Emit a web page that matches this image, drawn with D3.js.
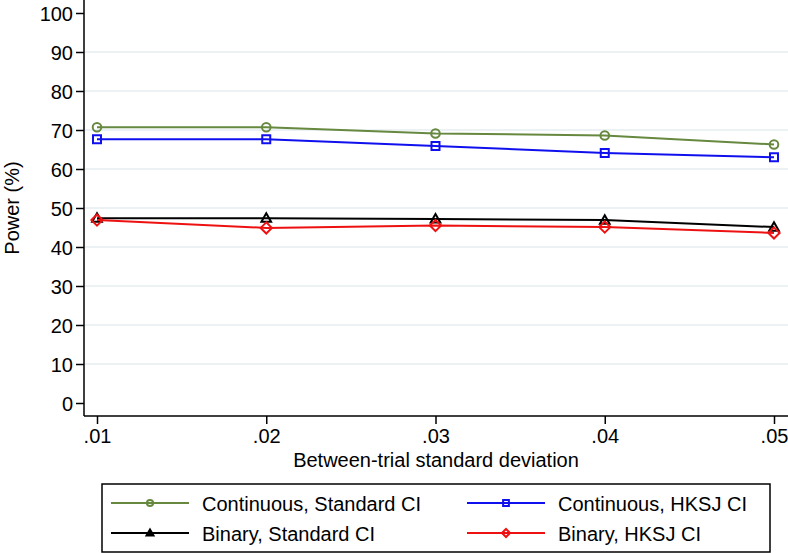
<!DOCTYPE html>
<html><head><meta charset="utf-8">
<script src="https://cdn.jsdelivr.net/npm/d3@7"></script>
<style>
html,body{margin:0;padding:0;background:#fff;}
svg{display:block;font-family:"Liberation Sans",Arial,sans-serif;}
</style></head>
<body><svg id="c" width="788" height="553"></svg>
<script>
const xValues = [0.01, 0.02, 0.03, 0.04, 0.05];
const xTickLabels = [".01", ".02", ".03", ".04", ".05"];
const yTicks = [0, 10, 20, 30, 40, 50, 60, 70, 80, 90, 100];
const contStandard = [70.7, 70.7, 69.1, 68.6, 66.3];
const contHKSJ = [67.6, 67.6, 65.9, 64.1, 63.0];
const binStandard = [47.4, 47.4, 47.2, 46.9, 45.1];
const binHKSJ = [46.9, 44.9, 45.5, 45.1, 43.6];
const seriesNames = ["Continuous, Standard CI", "Continuous, HKSJ CI", "Binary, Standard CI", "Binary, HKSJ CI"];

const series = [
  {name: seriesNames[0], values: contStandard, color: "#66883f", symbol: "circle"},
  {name: seriesNames[1], values: contHKSJ, color: "#1010ee", symbol: "square"},
  {name: seriesNames[2], values: binStandard, color: "#000000", symbol: "triangle"},
  {name: seriesNames[3], values: binHKSJ, color: "#ee1111", symbol: "diamond"}
];

const svg = d3.select("#c");
const fs = 20;
const x = d3.scaleLinear().domain([0.01, 0.05]).range([97, 774]);
const y = d3.scaleLinear().domain([0, 100]).range([403, 13]);
const axisLeft = 84, axisBottom = 416, plotRight = 788;

// gridlines
svg.append("g").selectAll("line").data(yTicks.filter(d => d > 0 && d < 100)).join("line")
  .attr("x1", axisLeft + 1).attr("x2", plotRight)
  .attr("y1", d => y(d)).attr("y2", d => y(d))
  .attr("stroke", "#e6eef0").attr("stroke-width", 1.5);

// y axis
const gy = svg.append("g").attr("transform", `translate(${axisLeft},0)`)
  .call(d3.axisLeft(y).tickValues(yTicks).tickSize(8).tickPadding(3).tickFormat(d3.format("d")));
gy.select(".domain").attr("d", `M0,0V${axisBottom}`).attr("stroke", "#000").attr("stroke-width", 1.5);
gy.selectAll(".tick line").attr("stroke", "#000").attr("stroke-width", 1.5);
gy.selectAll(".tick text").attr("font-size", fs).attr("font-family", "Liberation Sans, Arial, sans-serif").attr("fill", "#000").attr("dy", "0.36em");

// x axis
const gx = svg.append("g").attr("transform", `translate(0,${axisBottom})`)
  .call(d3.axisBottom(x).tickValues(xValues).tickSize(8).tickPadding(5).tickFormat((d, i) => xTickLabels[i]));
gx.select(".domain").attr("d", `M${axisLeft},0H${plotRight}`).attr("stroke", "#000").attr("stroke-width", 1.5);
gx.selectAll(".tick line").attr("stroke", "#000").attr("stroke-width", 1.5);
gx.selectAll(".tick text").attr("font-size", fs).attr("font-family", "Liberation Sans, Arial, sans-serif").attr("fill", "#000");

// axis titles
svg.append("text").attr("x", 436).attr("y", 467).attr("text-anchor", "middle")
  .attr("font-size", fs).text("Between-trial standard deviation");
svg.append("text").attr("transform", "translate(19,208) rotate(-90)").attr("text-anchor", "middle")
  .attr("font-size", fs).text("Power (%)");

function symbolPath(sym, r) {
  if (sym === "circle") return d3.symbol().type(d3.symbolCircle).size(Math.PI * r * r)();
  if (sym === "square") return `M${-r},${-r}H${r}V${r}H${-r}Z`;
  if (sym === "triangle") { const h = r * 1.15; return `M0,${-h}L${h},${h * 0.75}L${-h},${h * 0.75}Z`; }
  const d = r * 1.3; return `M0,${-d}L${d},0L0,${d}L${-d},0Z`;
}
const symR = {circle: 4.3, square: 4, triangle: 4.2, diamond: 4.3};

// lines + markers
const line = d3.line().x((d, i) => x(xValues[i])).y(d => y(d));
series.forEach(s => {
  svg.append("path").attr("d", line(s.values)).attr("fill", "none")
    .attr("stroke", s.color).attr("stroke-width", 2);
  svg.append("g").selectAll("path").data(s.values).join("path")
    .attr("transform", (d, i) => `translate(${x(xValues[i])},${y(d)})`)
    .attr("d", symbolPath(s.symbol, symR[s.symbol]))
    .attr("fill", "none").attr("stroke", s.color).attr("stroke-width", 2);
});

// legend
svg.append("rect").attr("x", 102).attr("y", 484).attr("width", 668).attr("height", 68)
  .attr("fill", "#fff").attr("stroke", "#000").attr("stroke-width", 1.5);
const legPos = [
  {lx1: 111, lx2: 189, tx: 202, y: 503},
  {lx1: 467, lx2: 545, tx: 558, y: 503},
  {lx1: 111, lx2: 189, tx: 202, y: 533},
  {lx1: 467, lx2: 545, tx: 558, y: 533}
];
series.forEach((s, i) => {
  const p = legPos[i];
  const g = svg.append("g");
  g.append("line").attr("x1", p.lx1).attr("x2", p.lx2).attr("y1", p.y).attr("y2", p.y)
    .attr("stroke", s.color).attr("stroke-width", 2);
  g.append("path").attr("transform", `translate(${(p.lx1 + p.lx2) / 2},${p.y})`)
    .attr("d", symbolPath(s.symbol, symR[s.symbol] * 0.72))
    .attr("fill", s.symbol === "triangle" ? "#000" : "none").attr("stroke", s.color).attr("stroke-width", 2);
  g.append("text").attr("x", p.tx).attr("y", p.y + 8).attr("font-size", fs).text(s.name);
});
</script>
</body></html>
